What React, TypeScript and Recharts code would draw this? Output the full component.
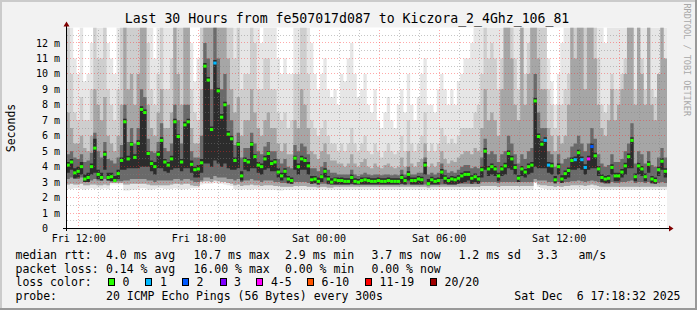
import React from 'react';
import { ComposedChart, Area, Line, XAxis, YAxis, CartesianGrid, ReferenceLine } from 'recharts';

// SmokePing: Last 30 Hours, 10 minute samples, hours counted from Fri 00:00
const START = 11.385;
const STEP = 1 / 6;

const medianMs = [
  4.1, 4.3, 3.6, 3.7, 4.0, 3.2, 3.3, 4.0, 5.2, 3.5,
  3.3, 4.8, 3.3, 3.35, 3.1, 3.55, 4.4, 6.9, 4.5, 5.45,
  4.6, 5.5, 7.7, 7.5, 4.85, 4.2, 4.0, 4.8, 5.7, 4.3,
  4.1, 4.5, 6.9, 5.95, 4.3, 6.7, 6.9, 4.15, 3.8, 3.85,
  4.25, 10.5, 9.6, 6.4, 10.7, 8.9, 7.2, 8.0, 6.1, 5.8,
  4.4, 5.45, 3.4, 4.4, 4.3, 5.45, 4.65, 4.1, 4.0, 4.5,
  4.85, 4.2, 4.3, 3.65, 3.4, 3.7, 3.2, 3.1, 4.55, 4.0,
  4.5, 4.4, 4.05, 3.15, 3.2, 3.05, 3.35, 3.7, 3.2, 3.0,
  3.15, 3.1, 3.1, 3.05, 3.05, 3.3, 3.05, 3.0, 3.1, 3.15,
  3.1, 3.05, 3.05, 3.1, 3.05, 3.05, 3.1, 3.05, 3.05, 3.05,
  3.3, 3.1, 3.5, 3.1, 3.1, 3.2, 3.15, 4.1, 2.9, 3.15,
  3.05, 3.1, 3.65, 3.25, 3.1, 3.2, 3.15, 3.25, 3.4, 3.5,
  3.5, 3.25, 3.35, 3.2, 3.8, 5.0, 3.85, 4.0, 3.85, 3.4,
  3.85, 4.05, 4.85, 4.5, 3.95, 3.25, 3.85, 3.65, 4.0, 4.1,
  8.25, 5.95, 5.45, 5.7, 4.1, 4.05, 3.15, 4.0, 3.2, 3.55,
  3.75, 4.4, 4.45, 4.9, 4.45, 3.95, 4.5, 5.3, 4.7, 3.85,
  3.3, 3.2, 3.25, 3.95, 3.4, 3.4, 3.65, 4.05, 4.65, 5.7,
  3.35, 4.05, 3.85, 3.35, 4.15, 3.2, 3.1, 3.8, 4.35, 3.7,
];

// lost pings out of 20 per sample
const lostPings = [
  0, 0, 0, 0, 0, 0, 0, 0, 0, 0,
  0, 0, 0, 0, 0, 0, 0, 0, 0, 0,
  0, 0, 0, 0, 0, 0, 0, 0, 0, 0,
  0, 0, 0, 0, 0, 0, 0, 0, 0, 0,
  0, 0, 0, 0, 1, 0, 0, 0, 0, 0,
  0, 0, 0, 0, 0, 0, 0, 0, 0, 0,
  0, 0, 0, 0, 0, 0, 0, 0, 0, 0,
  0, 0, 0, 0, 0, 0, 0, 0, 0, 0,
  0, 0, 0, 0, 0, 0, 0, 0, 0, 0,
  0, 0, 0, 0, 0, 0, 0, 0, 0, 0,
  0, 0, 0, 0, 0, 0, 0, 0, 0, 0,
  0, 0, 0, 0, 0, 0, 0, 0, 0, 0,
  0, 0, 0, 0, 0, 0, 0, 0, 0, 0,
  0, 0, 0, 0, 0, 0, 0, 0, 0, 0,
  0, 0, 0, 1, 1, 0, 0, 0, 0, 0,
  0, 0, 1, 0, 1, 1, 4, 2, 0, 0,
  0, 0, 0, 0, 0, 0, 0, 0, 0, 0,
  0, 0, 0, 0, 0, 0, 0, 0, 0, 0,
];

// smoke: top of each gray band (ms)
const coreHi = [
  4.3, 4.5, 3.9, 4.0, 4.3, 3.5, 3.6, 4.2, 5.8, 3.8,
  3.6, 5.0, 3.6, 3.6, 3.4, 3.8, 4.6, 7.1, 4.7, 5.6,
  4.8, 5.7, 7.9, 7.7, 5.0, 4.4, 4.3, 5.0, 5.9, 4.5,
  4.3, 4.7, 7.1, 6.1, 4.5, 6.9, 7.1, 4.4, 4.0, 4.1,
  4.5, 10.7, 9.8, 6.6, 10.9, 9.1, 7.4, 8.2, 6.3, 6.0,
  4.6, 5.6, 3.7, 4.6, 4.5, 5.6, 4.8, 4.3, 4.2, 4.7,
  5.0, 4.4, 4.5, 3.9, 3.6, 3.9, 3.4, 3.3, 4.7, 4.2,
  4.7, 4.6, 4.3, 3.4, 3.4, 3.3, 3.5, 3.9, 3.4, 3.25,
  3.3, 3.3, 3.3, 3.25, 3.25, 3.5, 3.25, 3.2, 3.3, 3.3,
  3.3, 3.25, 3.25, 3.3, 3.25, 3.25, 3.3, 3.25, 3.25, 3.25,
  3.5, 3.3, 3.7, 3.3, 3.3, 3.4, 3.35, 4.3, 3.2, 3.35,
  3.25, 3.3, 3.85, 3.45, 3.3, 3.4, 3.35, 3.45, 3.6, 3.7,
  3.7, 3.45, 3.55, 3.4, 4.0, 5.2, 4.05, 4.2, 4.05, 3.6,
  4.05, 4.25, 5.05, 4.7, 4.15, 3.45, 4.05, 3.85, 4.2, 4.3,
  8.45, 6.15, 5.65, 5.9, 4.3, 4.25, 3.4, 4.2, 3.45, 3.75,
  3.95, 4.6, 4.65, 5.1, 4.65, 4.15, 4.7, 5.5, 4.9, 4.05,
  3.5, 3.4, 3.45, 4.15, 3.6, 3.6, 3.85, 4.25, 4.85, 5.9,
  3.55, 4.25, 4.05, 3.55, 4.35, 3.4, 3.3, 4.0, 4.55, 3.9,
];

const darkHi = [
  4.8, 5.0, 4.6, 4.5, 4.8, 4.3, 4.4, 4.9, 6.2, 5.0,
  4.6, 5.6, 4.5, 4.4, 4.2, 4.6, 5.4, 8.0, 5.6, 6.5,
  5.5, 6.5, 9.0, 8.5, 5.8, 5.0, 4.9, 5.6, 6.8, 5.2,
  5.0, 5.5, 8.0, 7.0, 5.5, 8.0, 8.0, 5.0, 4.6, 4.6,
  6.0, 12, 11, 9.0, 13, 11, 9.0, 10, 8.0, 7.0,
  5.4, 6.2, 4.6, 5.2, 5.2, 6.2, 5.5, 5.0, 4.8, 5.3,
  5.6, 5.0, 5.0, 4.5, 4.2, 4.5, 4.0, 3.9, 5.4, 5.0,
  5.5, 5.3, 4.8, 3.9, 3.9, 3.7, 4.0, 4.3, 3.8, 3.6,
  3.6, 3.5, 3.5, 3.5, 3.5, 3.8, 3.5, 3.4, 3.5, 3.6,
  3.5, 3.45, 3.5, 3.5, 3.45, 3.5, 3.5, 3.45, 3.5, 3.45,
  3.8, 3.5, 4.0, 3.5, 3.5, 3.6, 3.6, 4.6, 3.5, 3.6,
  3.5, 3.6, 4.2, 3.8, 3.6, 3.7, 3.6, 3.8, 4.0, 4.1,
  4.1, 3.9, 4.0, 3.9, 4.6, 5.8, 4.8, 5.0, 4.8, 4.3,
  4.8, 5.0, 6.0, 5.5, 4.8, 4.2, 4.8, 4.5, 5.0, 5.2,
  10, 7.5, 6.5, 6.5, 5.0, 4.8, 4.0, 4.8, 4.2, 4.5,
  4.6, 5.3, 5.5, 6.0, 5.5, 5.0, 5.5, 6.5, 5.8, 4.8,
  4.2, 4.0, 4.1, 4.8, 4.3, 4.3, 4.5, 5.0, 5.5, 6.8,
  4.2, 5.0, 4.8, 4.2, 5.0, 4.1, 4.0, 4.6, 5.2, 4.6,
];

const midHi = [
  7.5, 6.5, 5.5, 5.5, 6.0, 5.2, 5.0, 6.0, 9.0, 8.0,
  7.0, 8.5, 6.0, 5.5, 5.0, 6.0, 8.0, 13, 9.0, 10,
  8.0, 10, 13, 13, 8.0, 6.5, 6.0, 7.5, 9.0, 6.5,
  6.5, 7.5, 13, 10, 8.0, 13, 13, 6.5, 5.5, 5.5,
  9.0, 13, 13, 13, 13, 13, 13, 13, 11, 9.0,
  7.5, 8.5, 6.0, 7.0, 7.0, 9.0, 7.5, 6.5, 6.0, 7.0,
  7.5, 6.5, 6.5, 5.5, 5.0, 5.5, 4.8, 4.8, 7.0, 6.5,
  9.0, 8.0, 6.5, 5.0, 4.8, 4.5, 5.0, 5.5, 4.8, 4.4,
  4.4, 4.2, 4.2, 4.0, 4.2, 4.8, 4.2, 4.0, 4.3, 4.5,
  4.0, 3.9, 4.2, 4.0, 3.9, 4.1, 4.2, 4.0, 3.9, 4.0,
  4.6, 4.0, 5.0, 4.2, 4.0, 4.3, 4.5, 5.5, 4.0, 4.2,
  4.0, 4.3, 5.0, 4.5, 4.2, 4.4, 4.3, 4.6, 4.8, 5.0,
  5.0, 4.8, 5.2, 5.0, 6.5, 9.0, 7.0, 7.5, 7.0, 6.0,
  9.0, 13, 13, 11, 8.0, 7.0, 13, 8.0, 10, 13,
  13, 11, 9.0, 9.0, 6.5, 6.0, 5.0, 6.0, 5.5, 6.0,
  8.0, 13, 11, 13, 13, 9.0, 13, 13, 11, 8.0,
  6.5, 6.0, 7.0, 9.0, 7.0, 8.0, 9.0, 10, 13, 13,
  8.0, 13, 10, 8.0, 13, 8.0, 7.0, 10, 13, 11,
];

const lightHi = [
  13, 10, 7.5, 7.0, 8.5, 7.0, 7.0, 9.0, 13, 11,
  11, 13, 9.0, 8.0, 7.0, 9.0, 13, 13, 13, 13,
  13, 13, 13, 13, 12, 9.0, 8.0, 10, 13, 9.0,
  9.0, 11, 13, 13, 13, 13, 13, 9.0, 7.5, 7.0,
  13, 13, 13, 13, 13, 13, 13, 13, 13, 13,
  11, 13, 9.0, 10, 10, 13, 12, 9.0, 9.0, 11,
  11, 9.0, 9.0, 7.5, 7.0, 7.5, 6.5, 7.0, 10, 10,
  13, 13, 10, 7.0, 6.5, 6.0, 6.5, 7.0, 6.0, 5.5,
  5.5, 5.0, 5.5, 5.0, 5.5, 6.5, 5.5, 5.0, 5.5, 6.0,
  5.0, 4.8, 5.5, 5.0, 4.6, 5.0, 5.5, 5.0, 4.8, 5.0,
  6.0, 5.0, 7.0, 5.5, 5.0, 5.5, 6.0, 7.5, 5.0, 5.5,
  5.0, 5.5, 6.5, 6.0, 5.5, 5.8, 5.5, 6.0, 6.5, 6.5,
  6.5, 6.5, 7.5, 8.0, 10, 13, 11, 12, 11, 9.0,
  11, 13, 13, 13, 11, 9.0, 13, 10, 12, 13,
  13, 13, 13, 13, 9.0, 8.0, 6.5, 8.0, 8.0, 9.0,
  10, 13, 13, 13, 13, 13, 13, 13, 13, 11,
  8.0, 7.5, 8.0, 10, 9.0, 9.0, 10, 11, 13, 13,
  9.0, 13, 11, 9.0, 13, 9.0, 8.5, 10, 13, 11,
];

const outerHi = [
  13, 13, 11, 10, 13, 9.5, 10, 12, 13, 13,
  13, 13, 12, 11, 10, 13, 13, 13, 13, 13,
  13, 13, 13, 13, 13, 13, 11, 13, 13, 13,
  13, 13, 13, 13, 13, 13, 13, 12, 9.5, 11,
  13, 13, 13, 13, 13, 13, 13, 13, 13, 13,
  13, 13, 13, 13, 13, 13, 13, 13, 12, 13,
  13, 13, 13, 11, 10, 11, 10, 10, 13, 13,
  13, 13, 13, 12, 10, 9.0, 10, 11, 9.0, 8.5,
  9.0, 8.0, 10, 9.5, 11, 12, 10, 8.5, 9.0, 10,
  8.0, 7.5, 9.0, 7.0, 6.5, 7.5, 8.5, 7.0, 6.5, 8.0,
  9.0, 7.5, 10, 8.0, 7.0, 8.5, 10, 11, 8.0, 8.0,
  7.5, 9.0, 10, 9.0, 8.0, 9.0, 8.0, 9.5, 10, 11,
  11, 12, 13, 13, 13, 13, 13, 13, 13, 13,
  13, 13, 13, 13, 13, 13, 13, 13, 13, 13,
  13, 13, 13, 13, 11, 9.5, 8.0, 10, 12, 13,
  13, 13, 13, 13, 13, 13, 13, 13, 13, 13,
  13, 12, 13, 13, 13, 13, 13, 13, 13, 13,
  13, 13, 13, 13, 13, 13, 13, 13, 13, 13,
];

// smoke: bottom edges (ms)
const coreLo = [
  3.6, 3.8, 3.25, 3.3, 3.5, 3.0, 3.0, 3.5, 3.6, 3.2,
  3.1, 3.8, 3.1, 3.05, 3.05, 3.2, 3.8, 3.8, 3.9, 3.9,
  3.9, 3.9, 4.0, 4.0, 4.0, 3.7, 3.5, 3.9, 3.9, 3.7,
  3.6, 3.8, 3.9, 3.9, 3.7, 3.9, 3.9, 3.6, 3.3, 3.3,
  3.6, 4.2, 4.2, 4.0, 4.4, 4.2, 4.0, 4.2, 3.9, 3.8,
  3.8, 3.9, 3.1, 3.8, 3.7, 3.9, 3.9, 3.6, 3.5, 3.8,
  3.9, 3.7, 3.7, 3.3, 3.1, 3.3, 2.95, 2.9, 3.8, 3.5,
  3.8, 3.8, 3.5, 2.9, 2.95, 2.85, 3.0, 3.3, 2.9, 2.85,
  2.85, 2.85, 2.85, 2.85, 2.85, 2.9, 2.85, 2.85, 2.85, 2.85,
  2.85, 2.85, 2.85, 2.85, 2.85, 2.85, 2.85, 2.85, 2.85, 2.85,
  2.9, 2.85, 3.1, 2.85, 2.85, 2.85, 2.85, 3.5, 2.8, 2.85,
  2.85, 2.85, 3.2, 2.9, 2.85, 2.85, 2.85, 2.9, 2.95, 3.0,
  3.1, 2.9, 3.0, 2.9, 3.3, 3.8, 3.4, 3.5, 3.4, 3.05,
  3.4, 3.5, 3.9, 3.8, 3.5, 3.0, 3.4, 3.3, 3.5, 3.6,
  4.0, 3.9, 3.9, 3.9, 3.6, 3.5, 2.95, 3.5, 2.95, 3.2,
  3.3, 3.8, 3.8, 3.9, 3.8, 3.5, 3.8, 3.9, 3.9, 3.4,
  3.0, 2.95, 2.95, 3.5, 3.05, 3.05, 3.3, 3.5, 3.9, 3.9,
  3.05, 3.5, 3.4, 3.05, 3.6, 2.95, 2.9, 3.4, 3.8, 3.3,
];

const darkLo = [
  3.2, 3.3, 3.2, 3.2, 3.3, 3.0, 3.0, 3.1, 3.2, 3.1,
  3.1, 3.2, 3.1, 3.05, 3.05, 3.05, 3.05, 3.1, 3.1, 3.2,
  3.2, 3.2, 3.2, 3.2, 3.1, 3.1, 3.0, 3.1, 3.1, 3.1,
  3.1, 3.1, 3.2, 3.2, 3.1, 3.2, 3.2, 3.1, 3.0, 3.0,
  3.1, 3.3, 3.3, 3.2, 3.4, 3.3, 3.3, 3.3, 3.2, 3.2,
  3.1, 3.2, 3.0, 3.1, 3.1, 3.2, 3.1, 3.1, 3.0, 3.1,
  3.1, 3.1, 3.0, 3.0, 2.95, 2.95, 2.9, 2.9, 3.0, 3.0,
  3.0, 3.0, 2.95, 2.9, 2.9, 2.85, 2.9, 2.9, 2.85, 2.85,
  2.85, 2.85, 2.85, 2.85, 2.85, 2.85, 2.85, 2.85, 2.85, 2.85,
  2.85, 2.85, 2.85, 2.85, 2.85, 2.85, 2.85, 2.85, 2.85, 2.85,
  2.85, 2.85, 2.85, 2.85, 2.85, 2.85, 2.85, 2.85, 2.8, 2.85,
  2.85, 2.85, 2.85, 2.85, 2.85, 2.85, 2.85, 2.9, 2.9, 2.9,
  2.9, 2.9, 2.9, 2.9, 3.0, 3.0, 3.0, 3.0, 3.0, 2.95,
  3.0, 3.0, 3.0, 3.0, 3.0, 3.0, 3.0, 3.0, 3.0, 3.0,
  3.2, 3.1, 3.1, 3.1, 3.0, 3.0, 2.9, 3.0, 2.95, 3.0,
  3.0, 3.05, 3.05, 3.1, 3.05, 3.0, 3.05, 3.1, 3.05, 3.0,
  2.95, 2.9, 2.9, 3.0, 2.95, 2.95, 3.0, 3.0, 3.05, 3.1,
  2.95, 3.0, 3.0, 2.95, 3.0, 2.9, 2.9, 2.95, 3.0, 2.95,
];

const midLo = [
  2.85, 2.9, 2.85, 2.85, 2.9, 2.8, 2.8, 2.85, 2.85, 2.8,
  2.8, 2.85, 2.8, 2.95, 2.95, 2.95, 2.95, 2.85, 2.85, 2.9,
  2.9, 2.9, 2.9, 2.9, 2.85, 2.8, 2.8, 2.8, 2.8, 2.8,
  2.8, 2.85, 2.9, 2.9, 2.85, 2.9, 2.9, 2.8, 2.75, 2.75,
  3.0, 3.05, 3.05, 3.0, 3.1, 3.05, 3.0, 3.0, 2.95, 2.9,
  2.8, 2.85, 2.75, 2.8, 2.8, 2.85, 2.8, 2.8, 2.75, 2.8,
  2.8, 2.8, 2.75, 2.75, 2.7, 2.7, 2.7, 2.7, 2.75, 2.75,
  2.75, 2.75, 2.7, 2.7, 2.7, 2.65, 2.7, 2.7, 2.65, 2.65,
  2.7, 2.7, 2.7, 2.7, 2.7, 2.7, 2.7, 2.7, 2.7, 2.7,
  2.7, 2.7, 2.7, 2.7, 2.7, 2.7, 2.7, 2.7, 2.7, 2.7,
  2.7, 2.7, 2.7, 2.7, 2.7, 2.7, 2.7, 2.7, 2.65, 2.7,
  2.7, 2.7, 2.7, 2.7, 2.7, 2.7, 2.7, 2.7, 2.7, 2.7,
  2.7, 2.7, 2.7, 2.7, 2.75, 2.75, 2.75, 2.75, 2.75, 2.7,
  2.75, 2.75, 2.75, 2.75, 2.75, 2.75, 2.75, 2.75, 2.75, 2.75,
  3.0, 2.85, 2.8, 2.8, 2.75, 2.75, 2.7, 2.75, 2.7, 2.75,
  2.75, 2.8, 2.8, 2.8, 2.8, 2.75, 2.8, 2.85, 2.8, 2.75,
  2.7, 2.7, 2.7, 2.7, 2.7, 2.7, 2.7, 2.7, 2.7, 2.7,
  2.7, 2.7, 2.7, 2.7, 2.7, 2.7, 2.7, 2.7, 2.7, 2.7,
];

const outerLo = [
  2.55, 2.55, 2.6, 2.6, 2.55, 2.5, 2.55, 2.6, 2.55, 2.6,
  2.55, 2.6, 2.55, 2.85, 2.85, 2.85, 2.85, 2.45, 2.45, 2.5,
  2.5, 2.55, 2.6, 2.6, 2.5, 2.5, 2.55, 2.6, 2.6, 2.55,
  2.55, 2.55, 2.6, 2.55, 2.5, 2.55, 2.55, 2.6, 2.6, 2.6,
  2.85, 2.9, 2.9, 2.9, 2.95, 2.9, 2.9, 2.85, 2.8, 2.75,
  2.55, 2.5, 2.5, 2.55, 2.5, 2.5, 2.55, 2.55, 2.5, 2.5,
  2.5, 2.5, 2.5, 2.45, 2.45, 2.5, 2.5, 2.5, 2.5, 2.5,
  2.5, 2.5, 2.5, 2.5, 2.5, 2.5, 2.5, 2.5, 2.5, 2.5,
  2.5, 2.5, 2.5, 2.5, 2.5, 2.5, 2.5, 2.5, 2.5, 2.5,
  2.5, 2.5, 2.5, 2.5, 2.5, 2.5, 2.5, 2.5, 2.5, 2.5,
  2.5, 2.5, 2.5, 2.5, 2.5, 2.5, 2.5, 2.5, 2.5, 2.5,
  2.5, 2.5, 2.5, 2.5, 2.5, 2.5, 2.5, 2.5, 2.5, 2.5,
  2.5, 2.5, 2.5, 2.5, 2.5, 2.5, 2.5, 2.5, 2.5, 2.5,
  2.5, 2.5, 2.5, 2.5, 2.5, 2.5, 2.5, 2.5, 2.5, 2.5,
  2.95, 2.7, 2.6, 2.55, 2.5, 2.5, 2.5, 2.5, 2.5, 2.5,
  2.5, 2.5, 2.55, 2.55, 2.55, 2.5, 2.55, 2.6, 2.55, 2.5,
  2.5, 2.5, 2.5, 2.5, 2.5, 2.5, 2.5, 2.5, 2.5, 2.5,
  2.5, 2.5, 2.5, 2.5, 2.5, 2.5, 2.5, 2.5, 2.5, 2.5,
];

const xTicks = [12, 18, 24, 30, 36];
const xTickLabels = ['Fri 12:00', 'Fri 18:00', 'Sat 00:00', 'Sat 06:00', 'Sat 12:00'];
const yTicks = [0, 1, 2, 3, 4, 5, 6, 7, 8, 9, 10, 11, 12];
const majorHours = [12, 15, 18, 21, 24, 27, 30, 33, 36, 39];
const minorHours = [13, 14, 16, 17, 19, 20, 22, 23, 25, 26, 28, 29, 31, 32, 34, 35, 37, 38, 40, 41];
const majorMs = [1, 2, 3, 4, 5, 6, 7, 8, 9, 10, 11, 12];
const minorMs = [0.5, 1.5, 2.5, 3.5, 4.5, 5.5, 6.5, 7.5, 8.5, 9.5, 10.5, 11.5, 12.5];

const lossLabels = ['0', '1', '2', '3', '4-5', '6-10', '11-19', '20/20'];
const lossColors = ['#26ff00', '#00b8ff', '#0059ff', '#7e00ff', '#ff00ff', '#ff5500', '#ff0000', '#a00000'];
const lossBoxX = [108.5, 145.5, 182.5, 220.5, 256.5, 307.5, 365.5, 430.5];
const lossTextX = [122.5, 160, 196.5, 234, 271, 321.5, 379.5, 444.5];

const rttStats = ['4.0 ms avg', '10.7 ms max', '2.9 ms min', '3.7 ms now', '1.2 ms sd', '3.3', 'am/s'];
const rttStatsX = [106, 193.5, 285, 371.5, 458.5, 537, 578.5];
const lossStats = ['0.14 % avg', '16.00 % max', '0.00 % min', '0.00 % now'];
const lossStatsX = [106, 193.5, 285, 371.5];

const rows: any[] = medianMs.map((m, i) => ({
  t: START + i * STEP,
  med: m,
  loss: lostPings[i],
  outer: [outerLo[i], outerHi[i]],
  light: [midLo[i], lightHi[i]],
  mid: [midLo[i], midHi[i]],
  dark: [darkLo[i], darkHi[i]],
  core: [coreLo[i], coreHi[i]],
}));
// closing row so the last step reaches the right edge
rows.push({ ...rows[rows.length - 1], t: START + 30, med: null });

const MONO = '"DejaVu Sans Mono", monospace';

const lossColor = (n: number) =>
  n === 0 ? lossColors[0] : n === 1 ? lossColors[1] : n === 2 ? lossColors[2] : n === 3 ? lossColors[3]
    : n <= 5 ? lossColors[4] : n <= 10 ? lossColors[5] : n <= 19 ? lossColors[6] : lossColors[7];

const XTick = (props: any) => {
  const idx = xTicks.indexOf(props.payload.value);
  return (
    <text x={props.x} y={241.5} textAnchor="middle" fontFamily={MONO} fontSize={10} fill="#000">
      {xTickLabels[idx]}
    </text>
  );
};

const YTick = (props: any) => {
  const v = props.payload.value;
  return (
    <text x={v === 0 ? 48 : 60} y={props.y + 3.6} textAnchor="end" fontFamily={MONO} fontSize={10} fill="#000">
      {v === 0 ? '0' : `${v} m`}
    </text>
  );
};

const MedianDot = (props: any) => {
  const { cx, cy, index, payload } = props;
  if (payload == null || payload.med == null || cy == null || isNaN(cy)) return <g key={`d${index}`} />;
  return <rect key={`d${index}`} x={cx} y={cy - 1.5} width={3.3} height={3} fill={lossColor(payload.loss)} />;
};

const smoke = [
  { key: 'outer', fill: '#e6e6e6' },
  { key: 'light', fill: '#cecece' },
  { key: 'mid', fill: '#a6a6a6' },
  { key: 'dark', fill: '#6a6a6a' },
  { key: 'core', fill: '#2c2c2c' },
];

const minorStroke = 'rgba(128,128,128,0.45)';
const majorStroke = 'rgba(255,40,40,0.4)';

const App: React.FC = () => {
  const txt = { fontFamily: MONO, fontSize: 11.5, fill: '#000' } as const;
  return (
    <div style={{ position: 'relative', width: 697, height: 310, background: '#f2f2f2', overflow: 'hidden' }}>
      <style>{'body{margin:0}'}</style>
      <ComposedChart width={697} height={310} data={rows} margin={{ top: 27.5, right: 30, bottom: 0, left: 0 }}>
        <CartesianGrid fill="#ffffff" horizontal={false} vertical={false} />
        <XAxis
          dataKey="t"
          type="number"
          domain={[START, START + 30]}
          ticks={xTicks}
          interval={0}
          tick={<XTick />}
          tickLine={false}
          axisLine={false}
          height={81.5}
          allowDataOverflow
        />
        <YAxis
          type="number"
          domain={[0, 13]}
          ticks={yTicks}
          interval={0}
          tick={<YTick />}
          tickLine={false}
          axisLine={false}
          width={66.5}
          allowDataOverflow
        />
        {smoke.map(s => (
          <Area
            key={s.key}
            type="stepAfter"
            dataKey={s.key}
            stroke="none"
            fill={s.fill}
            fillOpacity={1}
            isAnimationActive={false}
            activeDot={false}
          />
        ))}
        {minorMs.map(v => (
          <ReferenceLine key={`my${v}`} y={v} stroke={minorStroke} strokeDasharray="1 2" shapeRendering="crispEdges" />
        ))}
        {minorHours.map(h => (
          <ReferenceLine key={`mx${h}`} x={h} stroke={minorStroke} strokeDasharray="1 2" shapeRendering="crispEdges" />
        ))}
        {majorMs.map(v => (
          <ReferenceLine key={`My${v}`} y={v} stroke={majorStroke} strokeDasharray="1 2" shapeRendering="crispEdges" />
        ))}
        {majorHours.map(h => (
          <ReferenceLine key={`Mx${h}`} x={h} stroke={majorStroke} strokeDasharray="1 2" shapeRendering="crispEdges" />
        ))}
        <Line
          dataKey="med"
          stroke="none"
          dot={MedianDot}
          activeDot={false}
          isAnimationActive={false}
          connectNulls={false}
        />
      </ComposedChart>

      <svg width={697} height={310} style={{ position: 'absolute', left: 0, top: 0, pointerEvents: 'none' }}>
        {/* frame */}
        <rect x={0} y={0} width={697} height={2} fill="#cbcbcb" />
        <rect x={0} y={0} width={2} height={310} fill="#cbcbcb" />
        <rect x={695} y={0} width={2} height={310} fill="#999999" />
        <rect x={0} y={308} width={697} height={2} fill="#999999" />

        <text x={347} y={23} textAnchor="middle" fontFamily={MONO} fontSize={13.2} fill="#000">
          Last 30 Hours from fe507017d087 to Kiczora_2_4Ghz_106_81
        </text>
        <text
          x={15}
          y={128}
          transform="rotate(-90 15 128)"
          textAnchor="middle"
          fontFamily={MONO}
          fontSize={11.5}
          fill="#000"
        >
          Seconds
        </text>
        <text
          x={683.5}
          y={3.5}
          transform="rotate(90 683.5 3.5)"
          fontFamily={MONO}
          fontSize={8.5}
          fill="#a8a8a8"
        >
          RRDTOOL / TOBI OETIKER
        </text>

        {/* axes */}
        <line x1={63} y1={228.5} x2={669} y2={228.5} stroke="#000" strokeWidth={1} />
        <line x1={66.5} y1={25} x2={66.5} y2={231} stroke="#000" strokeWidth={1} />
        <polygon points="669,225.5 669,231.5 673.5,228.5" fill="#800000" />
        <polygon points="63.5,26.5 69.5,26.5 66.5,21.5" fill="#800000" />

        {/* legend */}
        <text x={15.5} y={259} {...txt}>median rtt:</text>
        {rttStats.map((s, i) => (
          <text key={s} x={rttStatsX[i]} y={259} {...txt}>{s}</text>
        ))}
        <text x={15.5} y={272.7} {...txt}>packet loss:</text>
        {lossStats.map((s, i) => (
          <text key={s} x={lossStatsX[i]} y={272.7} {...txt}>{s}</text>
        ))}
        <text x={15.5} y={286.4} {...txt}>loss color:</text>
        {lossLabels.map((l, i) => (
          <g key={l}>
            <rect x={lossBoxX[i]} y={278.5} width={6} height={7} fill={lossColors[i]} stroke="#000" strokeWidth={1} />
            <text x={lossTextX[i]} y={286.4} {...txt}>{l}</text>
          </g>
        ))}
        <text x={15.5} y={300} {...txt}>probe:</text>
        <text x={106} y={300} {...txt}>20 ICMP Echo Pings (56 Bytes) every 300s</text>
        <text x={680.5} y={300} textAnchor="end" style={{ whiteSpace: 'pre' }} {...txt}>
          {'Sat Dec  6 17:18:32 2025'}
        </text>
      </svg>
    </div>
  );
};

export default App;
